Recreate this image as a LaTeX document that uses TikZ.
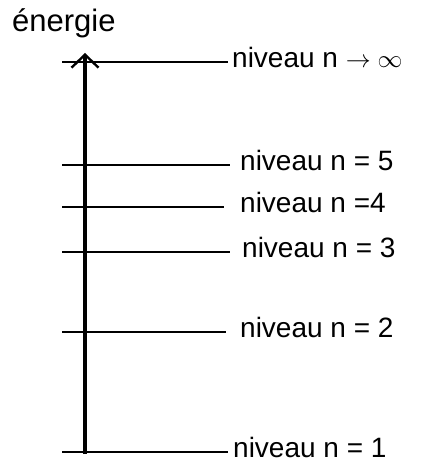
\documentclass[tikz,border=0pt]{standalone}
\usepackage{fontspec}
\setmainfont{Liberation Sans}
\usetikzlibrary{arrows.meta,positioning}
\tikzset{
  niveau/.style={line width=1.4pt},
  etiq/.style={inner sep=0pt,anchor=west,font=\fontsize{28}{32}\selectfont},
  axe/.style={line width=4.8pt,-{Straight Barb[length=13pt,width=27pt,line width=2.4pt]}}
}
\begin{document}
\begin{tikzpicture}[x=1pt,y=1pt,line cap=butt]
  \useasboundingbox (0,0) rectangle (428,464);
  % axe des energies
  \coordinate (bas) at (85,10);
  \coordinate (haut) at (85,411);
  \draw[axe] (bas) -- (haut);
  \node[inner sep=0pt,anchor=base west,font=\fontsize{31}{34}\selectfont] (energie) at (12,432) {énergie};
  % niveaux
  \foreach \yy/\xb/\xl/\txt/\nm in {
      402/228/232/{niveau n $\rightarrow\infty$}/inf,
      299/230/240/{niveau n = 5}/cinq,
      257/224/240/{niveau n =4}/quatre,
      212/230/242/{niveau n = 3}/trois,
      132/226/240/{niveau n = 2}/deux,
      12/228/233/{niveau n = 1}/un} {
    \coordinate (a\nm) at (62,\yy);
    \coordinate (b\nm) at (\xb,\yy);
    \draw[niveau] (a\nm) -- (b\nm);
    \node[etiq] (l\nm) at (\xl,\yy+5) {\txt};
  }
\end{tikzpicture}
\end{document}
